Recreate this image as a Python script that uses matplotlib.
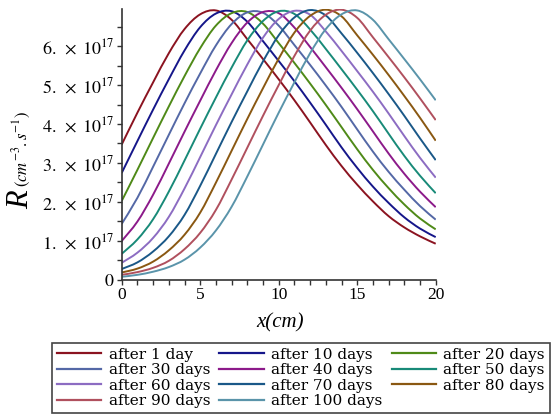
import numpy as np
import matplotlib
matplotlib.use('Agg')
import matplotlib.pyplot as plt
from matplotlib.path import Path
from matplotlib.patches import PathPatch
from matplotlib.lines import Line2D

plt.rcParams['mathtext.fontset'] = 'stix'
plt.rcParams['font.family'] = ['Liberation Serif', 'DejaVu Serif']

# x positions (cm) and R values in units of 1e17 cm^-3 s^-1
x_cm = list(range(21))

labels = ['after 1 day', 'after 10 days', 'after 20 days', 'after 30 days',
          'after 40 days', 'after 50 days', 'after 60 days', 'after 70 days',
          'after 80 days', 'after 90 days', 'after 100 days']

r_1 = [3.47, 4.29, 5.07, 5.82, 6.44, 6.82, 6.92, 6.68, 6.18, 5.67, 5.15,
       4.61, 4.04, 3.46, 2.92, 2.44, 2.01, 1.63, 1.34, 1.11, 0.92]
r_10 = [2.74, 3.56, 4.37, 5.15, 5.89, 6.49, 6.84, 6.90, 6.63, 6.13, 5.62,
        5.10, 4.55, 3.98, 3.40, 2.87, 2.39, 1.97, 1.60, 1.31, 1.09]
r_20 = [2.02, 2.82, 3.64, 4.45, 5.23, 5.95, 6.53, 6.85, 6.88, 6.58, 6.08,
        5.57, 5.04, 4.49, 3.92, 3.35, 2.82, 2.35, 1.93, 1.57, 1.29]
r_30 = [1.43, 2.10, 2.90, 3.72, 4.53, 5.30, 6.02, 6.57, 6.87, 6.86, 6.53,
        6.03, 5.52, 4.99, 4.44, 3.86, 3.29, 2.77, 2.31, 1.89, 1.54]
r_40 = [0.99, 1.49, 2.18, 2.98, 3.80, 4.60, 5.38, 6.08, 6.61, 6.88, 6.85,
        6.48, 5.98, 5.46, 4.93, 4.38, 3.81, 3.24, 2.72, 2.26, 1.86]
r_50 = [0.66, 1.03, 1.55, 2.26, 3.06, 3.88, 4.68, 5.45, 6.15, 6.65, 6.90,
        6.83, 6.43, 5.93, 5.41, 4.88, 4.33, 3.75, 3.18, 2.67, 2.22]
r_60 = [0.43, 0.69, 1.07, 1.61, 2.34, 3.15, 3.97, 4.76, 5.53, 6.22, 6.70,
        6.91, 6.81, 6.38, 5.88, 5.36, 4.83, 4.27, 3.69, 3.13, 2.62]
r_70 = [0.27, 0.44, 0.72, 1.11, 1.66, 2.41, 3.23, 4.05, 4.84, 5.61, 6.28,
        6.74, 6.93, 6.79, 6.33, 5.83, 5.31, 4.77, 4.21, 3.63, 3.07]
r_80 = [0.18, 0.28, 0.46, 0.75, 1.15, 1.72, 2.49, 3.31, 4.13, 4.92, 5.68,
        6.35, 6.78, 6.94, 6.77, 6.28, 5.78, 5.26, 4.72, 4.16, 3.57]
r_90 = [0.12, 0.19, 0.30, 0.48, 0.78, 1.20, 1.79, 2.57, 3.39, 4.21, 5.00,
        5.75, 6.40, 6.81, 6.94, 6.73, 6.23, 5.72, 5.20, 4.66, 4.10]
r_100 = [0.07, 0.12, 0.20, 0.32, 0.51, 0.82, 1.26, 1.87, 2.65, 3.47, 4.29,
         5.07, 5.82, 6.44, 6.82, 6.92, 6.68, 6.18, 5.67, 5.15, 4.61]

series = [r_1, r_10, r_20, r_30, r_40, r_50, r_60, r_70, r_80, r_90, r_100]
colors = ['#8b1320', '#15168a', '#4f8a18', '#5468a6', '#8c1a8a', '#188a78',
          '#8c6cc2', '#1a5888', '#8a5812', '#b0505e', '#5a94aa']


def smooth_path(xs, ys):
    # cubic bezier through the points (catmull-rom tangents), drawn by matplotlib
    p = np.column_stack([xs, ys]).astype(float)
    ext = np.vstack([p[0], p, p[-1]])
    verts = [p[0]]
    codes = [Path.MOVETO]
    for i in range(len(p) - 1):
        c1 = ext[i + 1] + (ext[i + 2] - ext[i]) / 6
        c2 = ext[i + 2] - (ext[i + 3] - ext[i + 1]) / 6
        verts += [c1, c2, p[i + 1]]
        codes += [Path.CURVE4] * 3
    return Path(verts, codes)


W, H = 553, 415
fig = plt.figure(figsize=(W / 100, H / 100), dpi=100)
x0, x1, y0, y1 = 121.7, 435.7, 279.5, 8.5
ax = fig.add_axes([x0 / W, 1 - y0 / H, (x1 - x0) / W, (y0 - y1) / H])

handles = []
for vals, col, lab in zip(series, colors, labels):
    path = smooth_path(x_cm, np.array(vals) * 1e17)
    ax.add_patch(PathPatch(path, facecolor='none', edgecolor=col, lw=1.4))
    handles.append(Line2D([], [], color=col, lw=1.6))

ax.set_xlim(0, 20)
ax.set_ylim(0, 6.97e17)
for s in ['top', 'right']:
    ax.spines[s].set_visible(False)
for s in ['left', 'bottom']:
    ax.spines[s].set_linewidth(1.2)
    ax.spines[s].set_color('#333333')

ax.set_xticks([0, 5, 10, 15, 20])
ax.set_xticks(range(21), minor=True)
ax.set_xticklabels(['0', '5', '10', '15', '20'], fontsize=12.5)
ax.set_yticks([k * 1e17 for k in range(7)])
ax.set_yticks([k * 0.5e17 for k in range(14)], minor=True)
ax.set_yticklabels([r'$0\ \ \ $'] +
                   [r'$%d.\;\times\;10^{17}$' % k for k in range(1, 7)],
                   fontsize=13)
ax.tick_params(which='both', direction='out', color='#333333', width=1,
               length=3.5)
ax.tick_params(which='major', pad=2)

fig.text(21 / W, 1 - 200 / H, 'R', rotation=90, fontsize=22, style='italic',
         ha='center', va='center')
fig.text(22 / W, 1 - 149 / H, r'$(cm^{-3}.s^{-1})$', rotation=90, fontsize=12,
         ha='center', va='center')
fig.text(280 / W, 1 - 323 / H, 'x(cm)', fontsize=15, style='italic',
         ha='center', va='center')

# legend filled row by row like the original
order = [0, 3, 6, 9, 1, 4, 7, 10, 2, 5, 8]
leg = fig.legend([handles[i] for i in order], [labels[i] for i in order], ncol=3,
                 loc='upper left', bbox_to_anchor=(52 / W, 1 - 343 / H),
                 prop=dict(family='DejaVu Serif', size=11),
                 handlelength=2.9, handletextpad=0.5, columnspacing=0.6,
                 labelspacing=0.1, borderpad=0.3, borderaxespad=0,
                 fancybox=False, framealpha=1, edgecolor='#444444')
leg.get_frame().set_linewidth(1.2)

fig.savefig('out.png', dpi=100)
